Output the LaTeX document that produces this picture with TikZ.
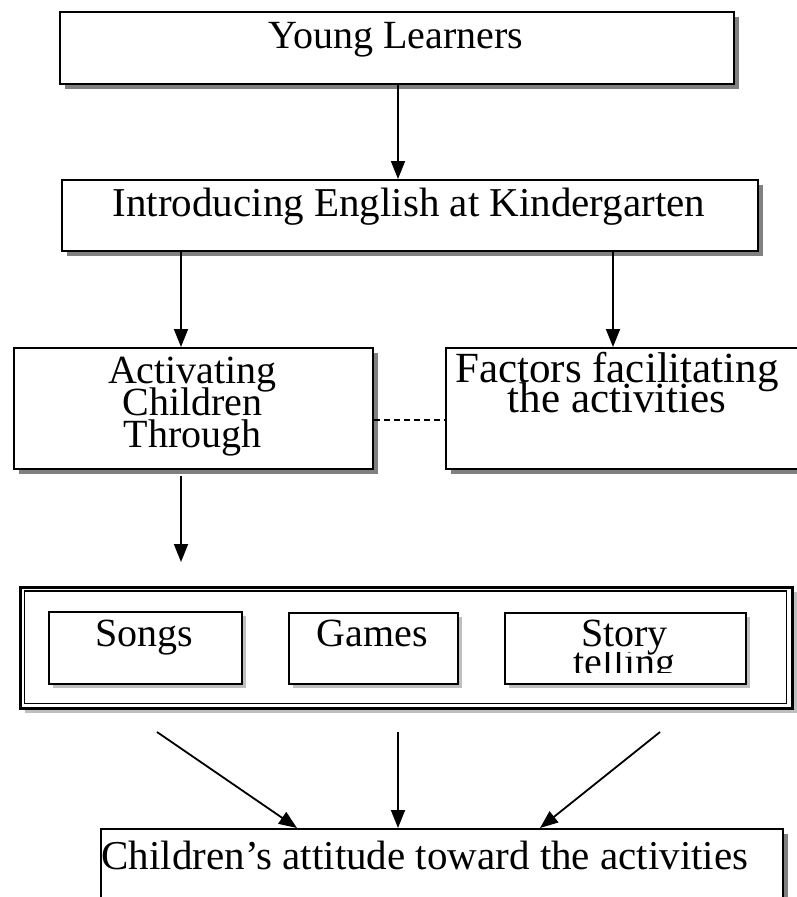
\documentclass[tikz,border=0pt]{standalone}
\usepackage{fontspec}
\setmainfont{Liberation Serif}
\usetikzlibrary{arrows.meta,shadows}
\newcommand\mytightlines{\lineskiplimit=-100pt\relax}
\begin{document}
\begin{tikzpicture}[x=1pt,y=-1pt,
  box/.style={draw=black, line width=2pt, fill=white, rectangle, inner sep=0pt, anchor=north west},
  dshadow/.style={general shadow={fill=black!50, shadow xshift=4.5pt, shadow yshift=-4.5pt}},
  lshadow/.style={general shadow={fill=black!25, shadow xshift=4.5pt, shadow yshift=-4.5pt}},
  txt/.style={font=\fontsize{40}{32}\selectfont\mytightlines, inner sep=0pt, anchor=base, align=center},
  arr/.style={line width=1.8pt, -{Triangle[length=18pt,width=14pt]}},
]
\useasboundingbox[fill=white] (0,0) rectangle (797,897);

% main boxes
\node[box, dshadow, minimum width=674pt, minimum height=72pt] (top) at (59,11) {};
\node[box, dshadow, minimum width=696pt, minimum height=71pt] (intro) at (61,179) {};
\node[box, dshadow, minimum width=359pt, minimum height=121pt] (act) at (13,347) {};
\node[box, dshadow, minimum width=400pt, minimum height=121pt] (fac) at (445,347) {};
\node[box, dshadow, minimum width=682pt, minimum height=110pt] (bot) at (100,828) {};

% double frame
\node[box, lshadow, line width=3pt, minimum width=772pt, minimum height=121.5pt] (frame) at (18.5,585.5) {};
\node[box, line width=1.5pt, minimum width=762pt, minimum height=112.5pt] (framein) at (23.5,590) {};

% inner activity boxes
\node[box, lshadow, line width=1.7pt, minimum width=193pt, minimum height=72pt] (songs) at (48,611) {};
\node[box, lshadow, line width=1.7pt, minimum width=169pt, minimum height=71pt] (games) at (288,612) {};
\node[box, lshadow, line width=1.7pt, minimum width=241pt, minimum height=71pt] (story) at (504,612) {};

% texts
\node[txt] (tTop) at (396,48) {Young Learners};
\node[txt, font=\fontsize{41}{32}\selectfont] (tIntro) at (409,216) {Introducing English at Kindergarten};
\node[txt] (tAct) at (192.5,447) {Activating\\Children\\Through};
\node[txt, font=\fontsize{43}{30}\selectfont\mytightlines] (tFac) at (617,412) {Factors facilitating\\the activities};
\node[txt] (tSongs) at (144.5,646) {Songs};
\node[txt] (tGames) at (372.5,646) {Games};
\node[txt] (tStory) at (624.5,646) {Story};
\begin{scope}
  \clip (504,652) rectangle (745,672);
  \node[txt] (tTelling) at (624.5,675) {telling};
\end{scope}
\node[txt, font=\fontsize{41}{32}\selectfont] (tBot) at (425,869) {Children’s attitude toward the activities};

% connectors
\coordinate (xa) at (181,0);
\coordinate (xb) at (613,0);
\coordinate (actend) at (181,562);
\coordinate (s1) at (157,732);
\coordinate (s2) at (398,732);
\coordinate (s3) at (660,732);
\coordinate (e1) at (297,0);
\coordinate (e3) at (540,0);

\draw[arr] (top.south -| s2) -- (intro.north -| s2);
\draw[arr] (intro.south -| xa) -- (act.north -| xa);
\draw[arr] (intro.south -| xb) -- (fac.north -| xb);
\draw[line width=1.6pt, dash pattern=on 6pt off 4pt] ([yshift=-11.5pt]act.east) -- ([yshift=-11.5pt]fac.west);
\draw[arr] ([yshift=-6pt]act.south -| xa) -- (actend);
\draw[arr] (s1) -- (bot.north -| e1);
\draw[arr] (s2) -- (bot.north -| s2);
\draw[arr] (s3) -- (bot.north -| e3);
\end{tikzpicture}
\end{document}
